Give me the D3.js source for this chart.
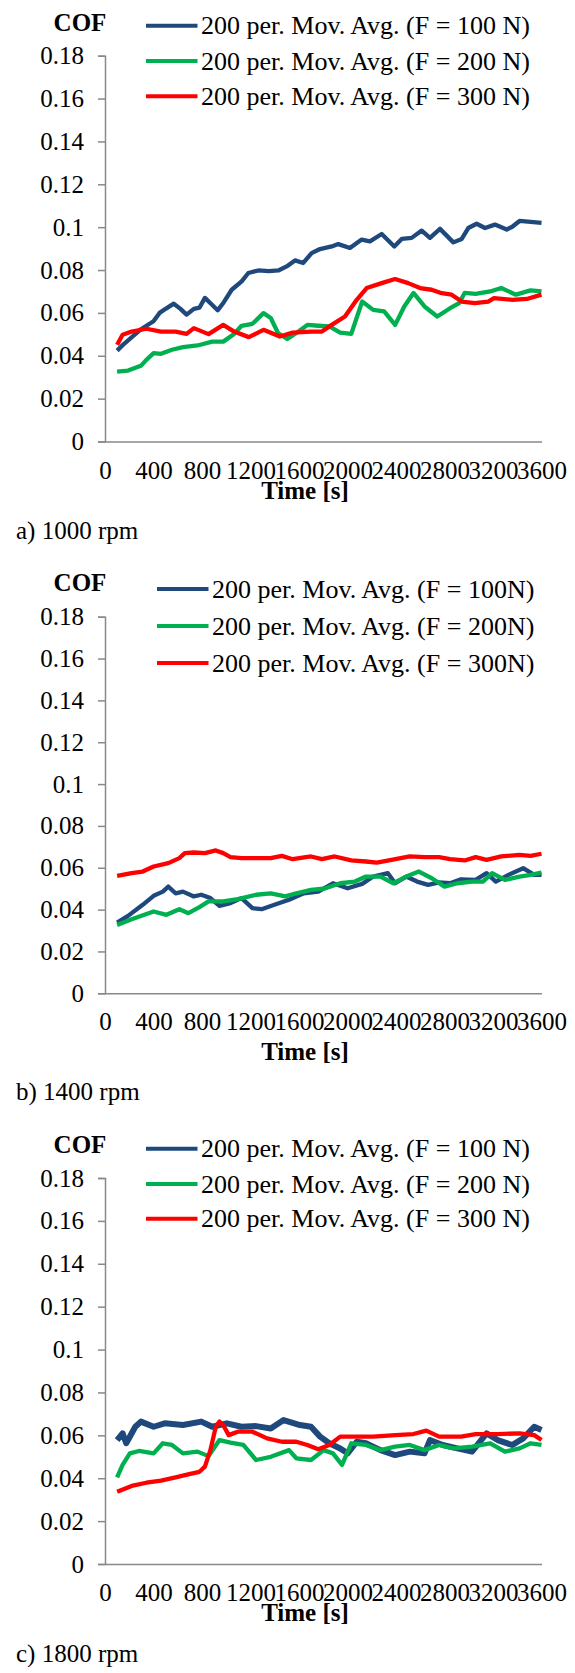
<!DOCTYPE html>
<html lang="en">
<head>
<meta charset="UTF-8">
<title>COF</title>
<script src="https://cdn.jsdelivr.net/npm/d3@7"></script>
<style>
    body { margin: 0px; background: #fff; }
    svg text { font-family: "Liberation Serif", "Times New Roman", "DejaVu Serif", serif; fill: #000; }
</style>
</head>
<body>
<svg id="chart" width="575" height="1673"></svg>
<script>
// tick values
const xTicks = [0, 400, 800, 1200, 1600, 2000, 2400, 2800, 3200, 3600];
const yTicks = [0, 0.02, 0.04, 0.06, 0.08, 0.1, 0.12, 0.14, 0.16, 0.18];

// a) 1000 rpm  [time s, COF]
const a100 = [[100,0.0424],[150,0.0452],[200,0.0476],[300,0.0525],[400,0.0561],[450,0.060],[500,0.0619],[567,0.0643],[620,0.062],[673,0.0592],[733,0.0619],[780,0.0625],[824,0.067],[870,0.0645],[929,0.0612],[980,0.065],[1045,0.0708],[1127,0.0747],[1182,0.0786],[1265,0.0798],[1350,0.0795],[1430,0.0798],[1498,0.0817],[1567,0.0845],[1635,0.0833],[1704,0.0879],[1773,0.0898],[1870,0.0910],[1924,0.0921],[2020,0.0903],[2117,0.0942],[2185,0.0934],[2282,0.0968],[2386,0.0910],[2447,0.0945],[2529,0.0950],[2612,0.0984],[2680,0.0950],[2763,0.0992],[2873,0.0929],[2942,0.0945],[2996,0.0996],[3065,0.1016],[3134,0.0996],[3216,0.1012],[3313,0.0989],[3359,0.1002],[3419,0.1029],[3510,0.1025],[3600,0.1020]];
const a200 = [[100,0.0326],[190,0.0331],[296,0.0353],[341,0.0381],[401,0.0412],[462,0.0409],[552,0.0428],[643,0.0440],[763,0.0448],[884,0.0466],[975,0.0466],[1065,0.0502],[1126,0.0540],[1216,0.0549],[1307,0.0599],[1367,0.0576],[1427,0.0506],[1503,0.0478],[1578,0.0506],[1669,0.0544],[1759,0.0540],[1850,0.0537],[1940,0.0508],[2031,0.0502],[2121,0.0653],[2212,0.0614],[2302,0.0607],[2393,0.0544],[2468,0.0630],[2544,0.0693],[2635,0.0630],[2740,0.0583],[2846,0.0622],[2921,0.0646],[2966,0.0693],[3057,0.0689],[3177,0.0700],[3268,0.0716],[3389,0.0685],[3510,0.0705],[3600,0.0700]];
const a300 = [[100,0.0451],[145,0.0498],[220,0.0513],[341,0.0526],[462,0.0513],[582,0.0513],[673,0.0502],[733,0.0529],[854,0.0501],[975,0.0544],[1065,0.0513],[1186,0.0487],[1307,0.0521],[1442,0.0490],[1548,0.0508],[1699,0.0513],[1789,0.0513],[1870,0.0544],[1979,0.0583],[2076,0.0661],[2158,0.0716],[2282,0.0739],[2392,0.0758],[2501,0.0739],[2598,0.0716],[2694,0.0708],[2777,0.0692],[2859,0.0685],[2942,0.0653],[3051,0.0646],[3161,0.0653],[3208,0.0669],[3359,0.0661],[3479,0.0665],[3600,0.0685]];

// b) 1400 rpm
const b100 = [[100,0.0338],[190,0.0370],[311,0.0423],[401,0.0466],[477,0.0486],[522,0.0510],[582,0.0478],[643,0.0486],[733,0.0463],[794,0.0471],[869,0.0455],[944,0.0418],[1035,0.0431],[1126,0.0455],[1216,0.0407],[1292,0.0402],[1397,0.0423],[1518,0.0447],[1639,0.0478],[1759,0.0486],[1880,0.0526],[2001,0.0502],[2121,0.0523],[2212,0.0558],[2333,0.0574],[2393,0.0526],[2484,0.0558],[2574,0.0534],[2665,0.0518],[2755,0.0530],[2846,0.0526],[2936,0.0545],[3057,0.0542],[3147,0.0574],[3223,0.0534],[3328,0.0566],[3449,0.0598],[3540,0.0566],[3600,0.0566]];
const b200 = [[100,0.0327],[220,0.0354],[401,0.0391],[507,0.0375],[613,0.0402],[688,0.0383],[779,0.0412],[854,0.0439],[975,0.0439],[1095,0.0450],[1246,0.0471],[1367,0.0478],[1488,0.0463],[1578,0.0478],[1699,0.0494],[1819,0.0502],[1940,0.0526],[2061,0.0534],[2152,0.0558],[2272,0.0558],[2378,0.0526],[2484,0.0558],[2589,0.0582],[2695,0.0550],[2800,0.0510],[2906,0.0526],[3027,0.0534],[3117,0.0534],[3193,0.0574],[3298,0.0542],[3419,0.0558],[3510,0.0566],[3600,0.0577]];
const b300 = [[100,0.0561],[220,0.0574],[311,0.0582],[401,0.0606],[522,0.0622],[613,0.0646],[658,0.0670],[733,0.0673],[824,0.0670],[914,0.0683],[975,0.0670],[1035,0.0651],[1126,0.0646],[1246,0.0646],[1367,0.0646],[1458,0.0657],[1548,0.0641],[1699,0.0654],[1789,0.0641],[1895,0.0654],[2031,0.0635],[2152,0.0630],[2242,0.0625],[2363,0.0638],[2514,0.0654],[2635,0.0651],[2755,0.0651],[2846,0.0641],[2966,0.0635],[3057,0.0651],[3147,0.0638],[3268,0.0654],[3419,0.0662],[3510,0.0657],[3600,0.0667]];

// c) 1800 rpm
const c100 = [[100,0.0578],[145,0.0609],[175,0.0563],[250,0.0640],[296,0.0664],[401,0.0640],[492,0.0656],[643,0.0648],[794,0.0664],[884,0.0640],[1005,0.0656],[1126,0.0640],[1246,0.0643],[1367,0.0632],[1473,0.0671],[1608,0.0648],[1699,0.0640],[1774,0.0594],[1850,0.0563],[1940,0.0539],[2001,0.0516],[2076,0.0570],[2152,0.0563],[2272,0.0531],[2393,0.0508],[2514,0.0524],[2635,0.0516],[2680,0.0578],[2785,0.0555],[2906,0.0539],[3027,0.0524],[3147,0.0609],[3238,0.0578],[3359,0.0555],[3449,0.0586],[3540,0.0640],[3600,0.0625]];
const c200 = [[100,0.0404],[145,0.0462],[205,0.0516],[281,0.0527],[401,0.0516],[477,0.0563],[552,0.0555],[643,0.0516],[763,0.0524],[854,0.0503],[944,0.0578],[1035,0.0566],[1141,0.0555],[1246,0.0485],[1367,0.0500],[1518,0.0531],[1578,0.0493],[1699,0.0485],[1804,0.0531],[1880,0.0516],[1955,0.0462],[2031,0.0563],[2152,0.0555],[2272,0.0531],[2393,0.0547],[2514,0.0555],[2635,0.0531],[2755,0.0555],[2876,0.0539],[3027,0.0547],[3177,0.0563],[3298,0.0524],[3419,0.0539],[3510,0.0563],[3600,0.0555]];
const c300 = [[100,0.0337],[220,0.0364],[341,0.0379],[462,0.0389],[582,0.0404],[703,0.0420],[779,0.0430],[824,0.0454],[869,0.0531],[914,0.0640],[944,0.0664],[975,0.0648],[1020,0.0601],[1095,0.0617],[1216,0.0617],[1337,0.0586],[1458,0.0570],[1578,0.0570],[1669,0.0555],[1759,0.0535],[1850,0.0555],[1940,0.0594],[2061,0.0594],[2212,0.0594],[2393,0.0601],[2544,0.0606],[2650,0.0622],[2755,0.0594],[2936,0.0594],[3057,0.0606],[3238,0.0606],[3419,0.0609],[3540,0.0601],[3600,0.0578]];

const labelsA = ['200 per. Mov. Avg. (F = 100 N)', '200 per. Mov. Avg. (F = 200 N)', '200 per. Mov. Avg. (F = 300 N)'];
const labelsB = ['200 per. Mov. Avg. (F = 100N)', '200 per. Mov. Avg. (F = 200N)', '200 per. Mov. Avg. (F = 300N)'];
const colors = ['#1f497d', '#00b050', '#ff0000'];

const svg = d3.select('#chart');
const plotLeft = 105, plotRight = 541.5;
const fs = 25;      // axis / caption text
const legFs = 26;   // legend text

function drawPanel(p) {
    const g = svg.append('g');
    const x = d3.scaleLinear([0, 3600], [plotLeft, plotRight]);
    const y = d3.scaleLinear([0, 0.18], [p.bottom, p.top]);

    // y axis
    const ya = g.append('g')
        .attr('transform', `translate(${plotLeft},0)`)
        .call(d3.axisLeft(y).tickValues(yTicks).tickSize(7).tickFormat(d => d3.format('~g')(+d.toFixed(2))));
    ya.attr('font-family', null);
    ya.select('.domain').attr('stroke', '#898989').attr('stroke-width', 1.5);
    ya.selectAll('.tick line').attr('stroke', '#898989').attr('stroke-width', 1.5);
    ya.selectAll('.tick text').attr('x', -21).attr('font-size', fs);

    // x axis
    const xa = g.append('g')
        .attr('transform', `translate(0,${p.bottom})`)
        .call(d3.axisBottom(x).tickValues(xTicks).tickSize(0).tickFormat(d3.format('d')));
    xa.attr('font-family', null);
    xa.select('.domain').attr('stroke', '#898989').attr('stroke-width', 1.5);
    xa.selectAll('.tick text').attr('y', 0).attr('dy', 37).attr('font-size', fs);

    const line = d3.line().x(d => x(d[0])).y(d => y(d[1]));
    p.series.forEach((s, i) => {
        g.append('path')
            .attr('d', line(s))
            .attr('fill', 'none')
            .attr('stroke', colors[i])
            .attr('stroke-width', i === 0 && p.noisy ? 6 : 4.3)
            .attr('stroke-linejoin', 'round');
    });

    // COF title
    g.append('text').attr('x', 80).attr('y', p.cofY)
        .attr('text-anchor', 'middle').attr('font-size', fs).attr('font-weight', 'bold').text('COF');

    // Time title
    g.append('text').attr('x', 305).attr('y', p.timeY)
        .attr('text-anchor', 'middle').attr('font-size', fs).attr('font-weight', 'bold').text('Time [s]');

    // legend
    p.labels.forEach((lab, i) => {
        const ly = p.legY[i];
        g.append('line').attr('x1', p.legX).attr('x2', p.legX + 51.5)
            .attr('y1', ly).attr('y2', ly)
            .attr('stroke', colors[i]).attr('stroke-width', 4);
        g.append('text').attr('x', p.legX + 55).attr('y', ly + 8.5)
            .attr('font-size', legFs).text(lab);
    });

    // caption
    g.append('text').attr('x', 16).attr('y', p.capY).attr('font-size', fs).text(p.caption);
}

drawPanel({ top: 55.7, bottom: 441.5, series: [a100, a200, a300], labels: labelsA,
    legX: 146, legY: [25.7, 61, 96.3], cofY: 31, timeY: 499, capY: 539, caption: 'a) 1000 rpm' });
drawPanel({ top: 616.7, bottom: 993.3, series: [b100, b200, b300], labels: labelsB,
    legX: 157, legY: [589, 626, 663], cofY: 591, timeY: 1060, capY: 1100, caption: 'b) 1400 rpm' });
drawPanel({ top: 1178, bottom: 1564, series: [c100, c200, c300], labels: labelsA, noisy: true,
    legX: 146, legY: [1148.7, 1184, 1218.7], cofY: 1153, timeY: 1621, capY: 1662, caption: 'c) 1800 rpm' });
</script>
</body>
</html>
